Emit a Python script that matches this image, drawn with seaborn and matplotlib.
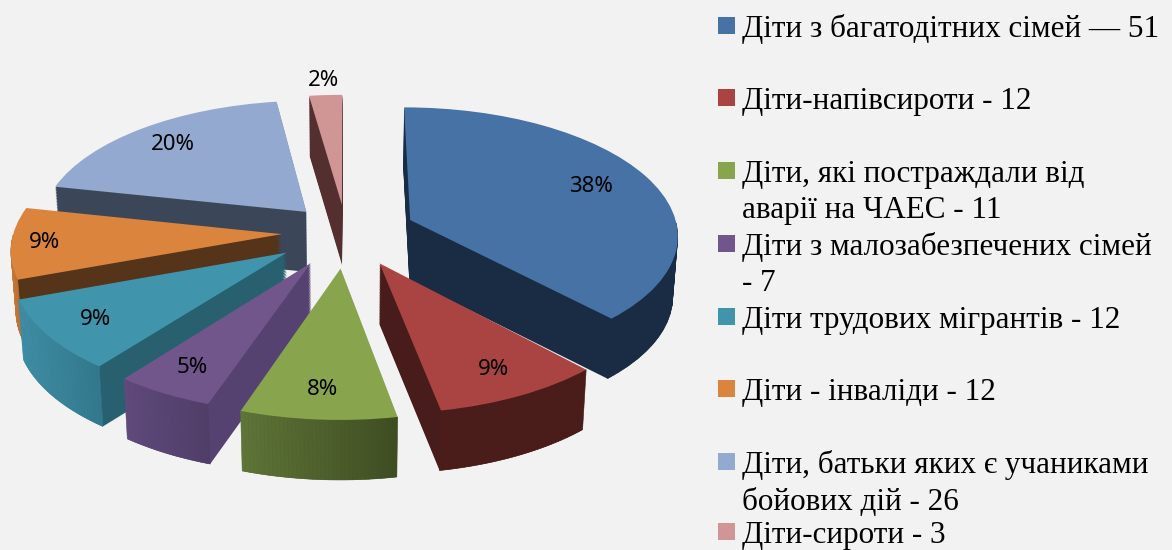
import numpy as np
import matplotlib
matplotlib.use("Agg")
import matplotlib.pyplot as plt
from matplotlib.transforms import Transform
from matplotlib.patches import Polygon, Rectangle
from matplotlib.colors import to_rgb
import seaborn as sns

# ---- data ----
values = [51, 12, 11, 7, 12, 12, 26, 3]
percent_labels = ["38%", "9%", "8%", "5%", "9%", "9%", "20%", "2%"]
legend_lines = [
    ["Діти з багатодітних сімей — 51"],
    ["Діти-напівсироти - 12"],
    ["Діти, які постраждали від", "аварії на ЧАЕС - 11"],
    ["Діти з малозабезпечених сімей", "- 7"],
    ["Діти трудових мігрантів - 12"],
    ["Діти - інваліди - 12"],
    ["Діти, батьки яких є учаниками", "бойових дій - 26"],
    ["Діти-сироти - 3"],
]
top_colors = ["#4672A5", "#A94442", "#88A54E", "#71568C", "#4095AD", "#DA843D", "#94A9CF", "#CF9695"]
wall_colors = ["#1A2C44", "#481C1A", "#3F4D22", "#564270", "#286070", "#55341A", "#3B4659", "#53302F"]
rim_left = ["#1A2C44", "#4A1C1A", "#5E7438", "#5F4A7C", "#3F8EA6", "#C87A38", "#3B4659", "#53302F"]
rim_right = ["#1A2C44", "#4A1C1A", "#3F4D22", "#503E68", "#33788C", "#A8622A", "#3B4659", "#53302F"]

# ---- style / layout ----
explode = [0.26, 0.27, 0.28, 0.27, 0.27, 0.24, 0.22, 0.22]
draw_rank = [2, 5, 7, 6, 4, 3, 1, 0]
label_frac = [0.76, 0.82, 0.82, 0.82, 0.81, 0.88, 0.80, 1.15]
CX, CY, RX, RY, P, DEPTH, TAPER = 346.0, 232.0, 268.0, 127.0, 0.106, 60.0, 0.00025
BG = "#F2F2F2"

sns.set_theme(style="white", rc={"figure.facecolor": BG, "axes.facecolor": BG})
palette = sns.color_palette(top_colors)


class Tilt(Transform):
    """Perspective view of the pie plane, in figure pixels, lowered by dz."""
    input_dims = output_dims = 2
    has_inverse = False
    is_separable = False

    def __init__(self, dz=0.0):
        super().__init__()
        self.dz = dz

    def transform_non_affine(self, xy):
        xy = np.asarray(xy, float)
        w = 1 + P * xy[:, 1]
        return np.column_stack([CX + (1 - TAPER * self.dz) * RX * xy[:, 0] / w,
                                CY - RY * xy[:, 1] / w + self.dz])


fig = plt.figure(figsize=(11.72, 5.5), dpi=100, facecolor=BG)
ax = fig.add_axes([0, 0, 1, 1])

layers = np.arange(DEPTH, -0.1, -1.5)
top_wedges = None
for dz in layers:
    colors = palette if dz == layers[-1] else wall_colors
    wedges, _ = ax.pie(values, explode=explode, colors=colors, startangle=90,
                       counterclock=False, radius=1.0, wedgeprops={"linewidth": 0})
    for i, w in enumerate(wedges):
        w.set_transform(Tilt(dz) + ax.transData)
        w.set_zorder(10 * draw_rank[i] + (3 if dz == layers[-1] else 1))
    top_wedges = wedges

# outer rim with the horizontal shading of the reference
for i, w in enumerate(top_wedges):
    t = np.radians(np.linspace(w.theta1, w.theta2, 40))
    cx, cy = w.center
    px = np.column_stack([cx + w.r * np.cos(t), cy + w.r * np.sin(t)])
    up = Tilt(0.0).transform(px)
    down = Tilt(DEPTH).transform(px)
    c0, c1 = np.array(to_rgb(rim_left[i])), np.array(to_rgb(rim_right[i]))
    xmin, xmax = up[:, 0].min(), up[:, 0].max()
    for k in range(len(t) - 1):
        if np.sin((t[k] + t[k + 1]) / 2) >= 0:
            continue
        f = (up[k, 0] + up[k + 1, 0]) / 2
        f = (f - xmin) / max(xmax - xmin, 1)
        col = c0 + (c1 - c0) * f
        quad = [up[k], up[k + 1], down[k + 1], down[k]]
        ax.add_patch(Polygon(quad, closed=True, facecolor=col, edgecolor=col,
                             linewidth=0.4, zorder=10 * draw_rank[i] + 2))

# percentage labels, placed along each slice's middle direction
for i, w in enumerate(top_wedges):
    mid = np.radians((w.theta1 + w.theta2) / 2)
    cx, cy = w.center
    pt = np.array([[cx + label_frac[i] * np.cos(mid), cy + label_frac[i] * np.sin(mid)]])
    x, y = Tilt(0.0).transform(pt)[0]
    ax.text(x, y, percent_labels[i], ha="center", va="center", fontsize=16,
            family="Noto Sans", color="black", zorder=200)

# legend
row_baselines = [[37], [109], [182, 218], [255, 291], [328], [400], [473, 510], [543]]
for i, (lines, bases) in enumerate(zip(legend_lines, row_baselines)):
    ax.add_patch(Rectangle((718, bases[0] - 20), 17, 17, facecolor=top_colors[i],
                           edgecolor="none", zorder=200))
    for text, base in zip(lines, bases):
        ax.text(742, base, text, ha="left", va="baseline", fontsize=22.4,
                family="Liberation Serif", color="black", zorder=200)

ax.set_aspect("auto")
ax.set_xlim(0, 1172)
ax.set_ylim(550, 0)
ax.axis("off")
fig.savefig("out.png", dpi=100, facecolor=BG)
